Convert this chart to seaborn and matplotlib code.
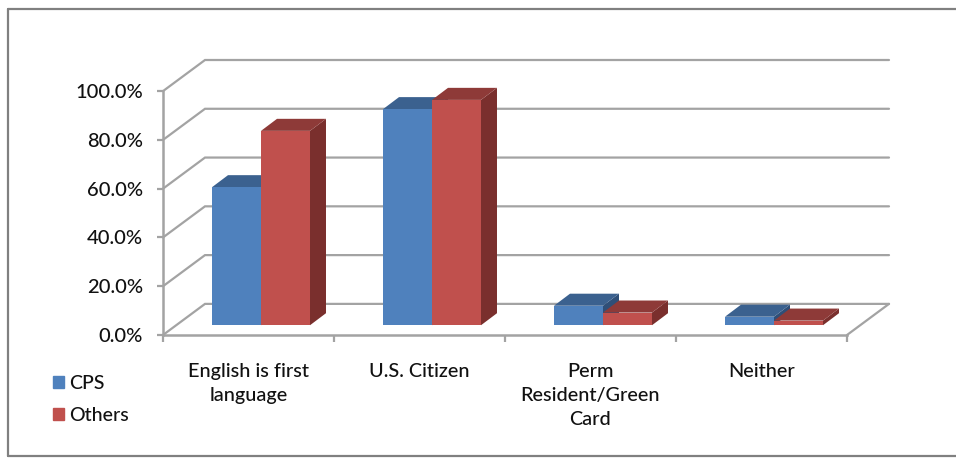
import matplotlib
matplotlib.use('Agg')
import matplotlib.pyplot as plt
from matplotlib.lines import Line2D
from matplotlib.patches import Polygon, Rectangle
import pandas as pd
import seaborn as sns

categories = ['English is first\nlanguage', 'U.S. Citizen', 'Perm\nResident/Green\nCard', 'Neither']
cps = [56.6, 88.6, 8.0, 3.5]
others = [79.7, 92.4, 5.2, 1.9]
y_ticks = [0, 20, 40, 60, 80, 100]

front_colors = {'CPS': '#4F81BD', 'Others': '#C0504D'}
top_colors = {'CPS': '#3B618F', 'Others': '#8E3A38'}
side_colors = {'CPS': '#2F4F78', 'Others': '#7A2F2D'}
grid_color = '#A3A3A3'

# size of the 3d box and of the bars, in data units (one category = 171 px, 1% = 2.43 px)
wall_dx, wall_dy = 42 / 171, 31 / 2.43
bar_dx, bar_dy = 12.5 / 171, 4.0
depth_dx, depth_dy = 16 / 171, 12 / 2.43

sns.set_theme(style='white')
plt.rcParams['font.family'] = ['Lato', 'DejaVu Sans']
plt.rcParams['font.weight'] = 500

df = pd.DataFrame({'category': categories, 'CPS': cps, 'Others': others})
df = df.melt(id_vars='category', var_name='series', value_name='percent')

fig = plt.figure(figsize=(9.56, 4.58), dpi=100)
ax = fig.add_axes([163 / 956, 1 - 335 / 458, (889 - 163) / 956, (335 - 60) / 458])
ax.patch.set_alpha(0)

sns.barplot(data=df, x='category', y='percent', hue='series', order=categories,
            palette=front_colors, width=0.573, gap=0, saturation=1, linewidth=0, ax=ax)

# back wall and floor
x_left, x_right = -0.5, 3.5
for tick in y_ticks:
    ax.plot([x_left, x_left + wall_dx, x_right + wall_dx],
            [tick, tick + wall_dy, tick + wall_dy],
            color=grid_color, lw=1.6, clip_on=False, zorder=1, solid_joinstyle='miter')
ax.plot([x_right, x_right + wall_dx], [0, wall_dy], color=grid_color, lw=1.6, clip_on=False, zorder=1)

# turn the flat bars into boxes
for order, (container, name) in enumerate(zip(ax.containers, ['CPS', 'Others'])):
    base = 2 + order * 3
    for bar in container:
        x0 = bar.get_x() + bar_dx
        w = bar.get_width()
        h = bar.get_height()
        bar.set_x(x0)
        bar.set_y(bar_dy)
        bar.set_edgecolor('none')
        bar.set_zorder(base + 2)
        y0 = bar_dy
        y1 = bar_dy + h
        top = [(x0, y1), (x0 + w, y1), (x0 + w + depth_dx, y1 + depth_dy), (x0 + depth_dx, y1 + depth_dy)]
        side = [(x0 + w, y0), (x0 + w + depth_dx, y0 + depth_dy),
                (x0 + w + depth_dx, y1 + depth_dy), (x0 + w, y1)]
        ax.add_patch(Polygon(top, facecolor=top_colors[name], edgecolor='none', zorder=base + 1, clip_on=False))
        ax.add_patch(Polygon(side, facecolor=side_colors[name], edgecolor='none', zorder=base, clip_on=False))

ax.set_xlim(x_left, x_right + wall_dx)
ax.set_ylim(0, 100 + wall_dy)
ax.set_xlabel('')
ax.set_ylabel('')

sns.despine(ax=ax, top=True, right=True)
for side_name in ['left', 'bottom']:
    ax.spines[side_name].set_color(grid_color)
    ax.spines[side_name].set_linewidth(1.8)
    ax.spines[side_name].set_zorder(1)
ax.spines['left'].set_bounds(0, 100)
ax.spines['bottom'].set_bounds(x_left, x_right)

ax.set_yticks(y_ticks)
ax.set_yticklabels([f'{t:.1f}%' for t in y_ticks])
ax.tick_params(axis='y', left=True, length=4.5, width=1.6, color=grid_color, pad=10,
               labelsize=14.5, labelcolor='#111111')
ax.set_xticks(range(len(categories)))
ax.set_xticklabels(categories, linespacing=1.5)
ax.tick_params(axis='x', which='major', bottom=False, length=0, pad=20, labelsize=14.3, labelcolor='#111111')
ax.set_xticks([-0.5, 0.5, 1.5, 2.5, 3.5], minor=True)
ax.tick_params(axis='x', which='minor', bottom=True, length=5, width=1.6, color=grid_color)

handles = [Rectangle((0, 0), 1, 1, color=front_colors[n]) for n in ['CPS', 'Others']]
ax.legend(handles, ['CPS', 'Others'], loc='upper left', bbox_to_anchor=(41 / 956, 1 - 363 / 458),
          bbox_transform=fig.transFigure, frameon=False, fontsize=14, handlelength=0.56,
          handleheight=0.56, handletextpad=0.3, labelspacing=0.78, borderpad=0.1, labelcolor='#111111')

# chart frame (no right edge in the reference)
for xs, ys in [([8, 8], [9, 456]), ([8, 956], [9, 9]), ([8, 956], [456, 456])]:
    fig.add_artist(Line2D([x / 956 for x in xs], [1 - y / 458 for y in ys], color='#808080', lw=1.6))

fig.savefig('out.png', dpi=100)
